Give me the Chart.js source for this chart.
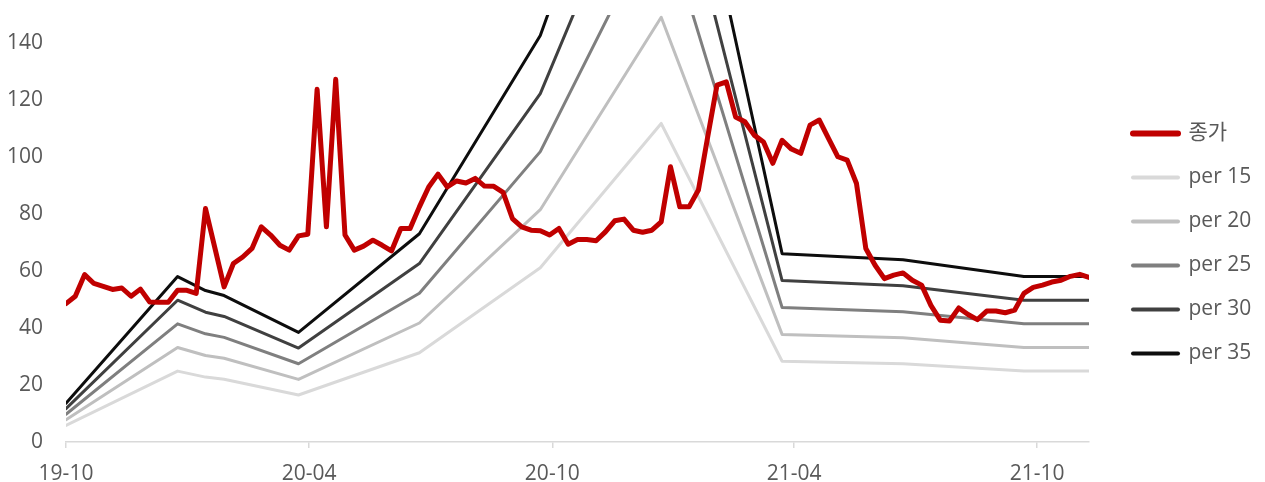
<!DOCTYPE html>
<html>
<head>
<meta charset="utf-8">
<script src="https://cdn.jsdelivr.net/npm/chart.js@4"></script>
<style>
  html, body { margin: 0; padding: 0; background: #ffffff; }
  #wrap { width: 1265px; height: 482px; }
</style>
</head>
<body>
<div id="wrap"><canvas id="chart" width="1265" height="482"></canvas></div>
<script>
// Weekly closing price, week 0 = first week of October 2019
const closePrices = [
  48.6, 51.2, 58.8, 55.7, 54.7, 53.6, 54.1, 51.2, 53.7, 49.2,
  49.1, 49.1, 53.3, 53.3, 52.2, 82.0, 68.3, 54.5, 62.7, 65.0,
  68.0, 75.6, 72.7, 69.1, 67.4, 72.4, 73.0, 123.9, 75.6, 127.4,
  72.7, 67.4, 68.8, 70.9, 69.1, 67.1, 75.0, 75.0, 82.6, 89.6,
  94.1, 89.6, 91.7, 91.0, 92.6, 89.9, 89.8, 87.7, 78.5, 75.6,
  74.4, 74.2, 72.7, 75.0, 69.5, 71.1, 71.1, 70.7, 73.8, 77.7,
  78.3, 74.4, 73.7, 74.4, 77.3, 96.7, 82.6, 82.6, 88.5, 107.2,
  125.4, 126.5, 114.2, 112.5, 107.8, 105.4, 97.9, 106.0, 102.9, 101.4,
  111.3, 113.1, 106.6, 100.2, 99.0, 90.8, 68.0, 62.1, 57.4, 58.6,
  59.4, 56.8, 55.1, 48.0, 42.8, 42.5, 47.1, 44.8, 43.0, 46.0,
  46.0, 45.4, 46.3, 52.2, 54.3, 55.1, 56.2, 56.8, 58.2, 58.9,
  57.8
];

// EPS at the weeks where the valuation bands change direction
const epsWeeks  = [0, 12, 15, 17, 25, 38, 51, 64, 77, 90, 103, 110];
const epsValues = [0.39, 1.66, 1.52, 1.47, 1.10, 2.09, 4.08, 7.46, 1.89, 1.83, 1.66, 1.66];

// PER multiples for the bands
const perMultiples = [15, 20, 25, 30, 35];

// x-axis month ticks
const tickLabels = ['19-10', '20-04', '20-10', '21-04', '21-10'];
const tickDates  = ['2019-10-01', '2020-04-01', '2020-10-01', '2021-04-01', '2021-10-01'];
const startDate  = '2019-10-01';

const priceLabel = '종가';
const priceColor = '#c00000';
const perColors = ['#d9d9d9', '#bfbfbf', '#7f7f7f', '#404040', '#0d0d0d'];
const textColor = '#595959';
const axisColor = '#d9d9d9';
const FONT = "'Open Sans', 'Noto Sans CJK KR', sans-serif";
const FONT_SIZE = 21;

const DAY = 86400000;
const weekOf = d => (Date.parse(d) - Date.parse(startDate)) / DAY / 7;
const tickWeeks = tickDates.map(weekOf);

const datasets = [{
  label: priceLabel,
  data: closePrices.map((v, i) => ({ x: i, y: v })),
  borderColor: priceColor,
  backgroundColor: priceColor,
  borderWidth: 5,
  borderCapStyle: 'round',
  borderJoinStyle: 'round',
  pointRadius: 0,
  tension: 0
}];
perMultiples.forEach((m, k) => {
  datasets.push({
    label: 'per ' + m,
    data: epsWeeks.map((w, i) => ({ x: w, y: epsValues[i] * m })),
    borderColor: perColors[k],
    backgroundColor: perColors[k],
    borderWidth: 3,
    borderCapStyle: 'round',
    borderJoinStyle: 'round',
    pointRadius: 0,
    tension: 0
  });
});

// moves the legend column away from the plot edge
const LEGEND_OFFSET = { x: 21, y: -5 };
const legendOffset = {
  id: 'legendOffset',
  afterLayout(chart) {
    const lg = chart.legend;
    if (!lg) return;
    lg.left += LEGEND_OFFSET.x; lg.right += LEGEND_OFFSET.x;
    lg.top += LEGEND_OFFSET.y; lg.bottom += LEGEND_OFFSET.y;
  }
};

new Chart(document.getElementById('chart'), {
  type: 'line',
  data: { datasets },
  plugins: [legendOffset],
  options: {
    responsive: false,
    animation: false,
    devicePixelRatio: 1,
    layout: { padding: { top: 15, right: 26, bottom: 0, left: 0 } },
    plugins: {
      tooltip: { enabled: false },
      legend: {
        position: 'right',
        maxWidth: 150,
        labels: {
          usePointStyle: true,
          pointStyle: 'line',
          pointStyleWidth: 45,
          padding: 23,
          color: textColor,
          font: { family: FONT, size: FONT_SIZE },
          generateLabels(chart) {
            const items = Chart.defaults.plugins.legend.labels.generateLabels(chart);
            items.forEach((it, i) => {
              it.lineWidth = i === 0 ? 6 : 4;
              it.lineCap = 'round';
              it.pointStyle = 'line';
            });
            return items;
          }
        }
      }
    },
    scales: {
      x: {
        type: 'linear',
        min: 0,
        max: closePrices.length - 1,
        afterFit(scale) {
          scale.height = 40;
          scale.paddingLeft = 0; scale.paddingRight = 0;
        },
        afterBuildTicks(scale) { scale.ticks = tickWeeks.map(v => ({ value: v })); },
        grid: {
          display: true,
          drawOnChartArea: false,
          drawTicks: true,
          tickLength: 6,
          color: axisColor,
          lineWidth: 1.5
        },
        border: { display: true, color: axisColor, width: 1.5 },
        ticks: {
          autoSkip: false,
          maxRotation: 0,
          padding: 13,
          color: textColor,
          font: { family: FONT, size: FONT_SIZE },
          callback: (value, index) => tickLabels[index]
        }
      },
      y: {
        min: 0,
        max: 150,
        afterFit(scale) {
          scale.width = 66;
          scale.paddingTop = 0; scale.paddingBottom = 0;
        },
        grid: { display: false, drawTicks: false },
        border: { display: false },
        ticks: {
          stepSize: 20,
          includeBounds: false,
          padding: 23,
          color: textColor,
          font: { family: FONT, size: FONT_SIZE }
        }
      }
    }
  }
});
</script>
</body>
</html>
